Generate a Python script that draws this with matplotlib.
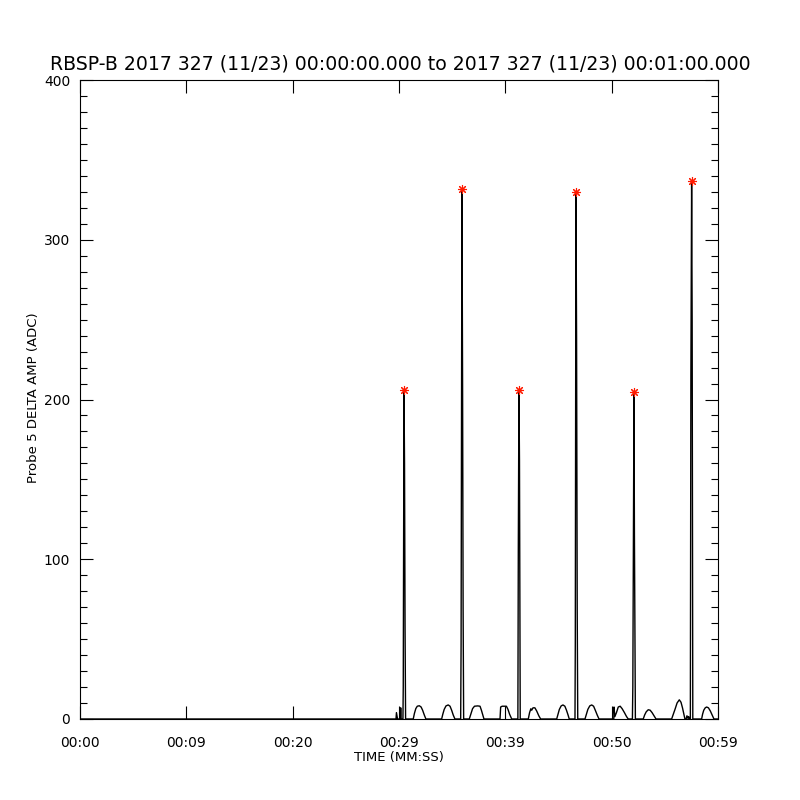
import matplotlib

matplotlib.use("Agg")
import matplotlib.pyplot as plt
from matplotlib.ticker import MultipleLocator

TITLE: str = "RBSP-B 2017 327 (11/23) 00:00:00.000 to 2017 327 (11/23) 00:01:00.000"
X_LABEL: str = "TIME (MM:SS)"
Y_LABEL: str = "Probe 5 DELTA AMP (ADC)"

x_tick_pos = [0, 10, 20, 30, 40, 50, 60]
x_tick_labels = ["00:00", "00:09", "00:20", "00:29", "00:39", "00:50", "00:59"]
y_tick_pos = [0, 100, 200, 300, 400]

# waveform samples (seconds, ADC)
time_s = [
    0.0, 29.72, 29.76, 29.86, 30.12, 30.16, 30.20,
    30.37, 30.40, 30.47, 30.52, 30.57, 30.62,
    31.34, 31.45, 31.58, 31.72, 31.91, 32.08, 32.22, 32.38, 32.53,
    34.01, 34.12, 34.25, 34.42, 34.63, 34.80, 34.95, 35.10, 35.26,
    35.80, 35.84, 35.92, 35.98, 36.03, 36.08,
    36.61, 36.75, 36.92, 37.10, 37.40, 37.62, 37.75, 37.88, 37.99,
    39.50, 39.56, 39.70, 40.10, 40.25, 40.40, 40.60,
    41.18, 41.22, 41.28, 41.33, 41.40,
    42.16, 42.28, 42.40, 42.48, 42.60, 42.78, 42.95, 43.15, 43.32,
    44.83, 44.95, 45.08, 45.25, 45.42, 45.60, 45.75, 45.90, 46.01,
    46.55, 46.58, 46.64, 46.70, 46.76, 46.81,
    47.49, 47.62, 47.76, 47.94, 48.12, 48.30, 48.46, 48.64, 48.81,
    50.20, 50.22, 50.30, 50.45, 50.62, 50.80, 50.98, 51.20, 51.40, 51.56,
    51.95, 51.99, 52.10, 52.14, 52.19, 52.23,
    52.97, 53.10, 53.25, 53.44, 53.62, 53.80, 53.98, 54.17,
    55.64, 55.80, 55.98, 56.15, 56.36, 56.52, 56.66, 56.78, 56.89,
    57.00, 57.08, 57.16, 57.24, 57.30,
    57.40, 57.45, 57.52, 57.57, 57.63,
    58.46, 58.55, 58.66, 58.80, 58.93, 59.10, 59.28, 59.45, 59.62, 60.0,
]
amp_adc = [
    0, 0, 4, 0, 0, 7, 0,
    0, 20, 206, 160, 57, 0,
    0, 3.5, 6.5, 8.0, 8.3, 7.5, 5.5, 2.5, 0,
    0, 3, 6, 8.2, 8.8, 8.0, 5.5, 2.5, 0,
    0, 47, 332, 208, 68, 0,
    0, 3, 6.5, 8, 8.2, 8, 5.5, 2.5, 0,
    0, 7.5, 8, 8, 6, 3, 0,
    0, 106, 206, 162, 0,
    0, 4, 6.4, 5.5, 7, 7, 5, 2, 0,
    0, 3, 6, 8.2, 8.8, 8, 5.5, 2.5, 0,
    0, 47, 330, 239, 68, 0,
    0, 3, 6, 8.2, 8.8, 8, 5.5, 2.5, 0,
    0, 7.5, 1.5, 4, 7.5, 8, 6.5, 4, 1.5, 0,
    0, 20, 205, 116, 57, 0,
    0, 2.5, 4.5, 5.8, 5.5, 4, 2, 0,
    0, 3, 6.5, 10, 12, 10.5, 7, 3.5, 0,
    0, 2, 0.5, 1.5, 0,
    0, 215, 337, 248, 0,
    0, 3, 5.5, 7, 7.5, 7, 5, 2.5, 0, 0,
]

peak_t = [30.47, 35.92, 41.28, 46.64, 52.10, 57.52]
peak_amp = [206, 332, 206, 330, 205, 337]


def make_plot() -> None:
    fig = plt.figure(figsize=(8, 8), dpi=100)
    fig.patch.set_facecolor("white")
    ax = fig.add_axes([0.1, 0.10125, 0.7975, 0.79875])

    ax.plot(time_s, amp_adc, color="black", lw=1.0)
    ax.plot(peak_t, peak_amp, ls="none", marker=(8, 2, 0), ms=6.5,
            mec="#ff1a00", mew=0.8)

    ax.set_xlim(0, 60)
    ax.set_ylim(0, 400)
    ax.set_xticks(x_tick_pos)
    ax.set_xticklabels(x_tick_labels)
    ax.set_yticks(y_tick_pos)
    ax.yaxis.set_minor_locator(MultipleLocator(10))

    ax.tick_params(axis="both", which="both", direction="in",
                   top=True, right=True, width=0.8, labelsize=10)
    ax.tick_params(axis="both", which="major", length=9.5)
    ax.tick_params(axis="y", which="minor", length=5)
    ax.tick_params(axis="x", which="major", pad=12)
    ax.tick_params(axis="y", which="major", pad=7)
    for spine in ax.spines.values():
        spine.set_linewidth(0.8)

    fig.text(0.5, 0.92, TITLE, ha="center", va="center", fontsize=13.6)
    fig.text(0.4985, 0.0525, X_LABEL, ha="center", va="center", fontsize=9.5)
    fig.text(0.0425, 0.503, Y_LABEL, ha="center", va="center",
             rotation=90, fontsize=9.5)

    fig.savefig("out.png", dpi=100)


make_plot()
